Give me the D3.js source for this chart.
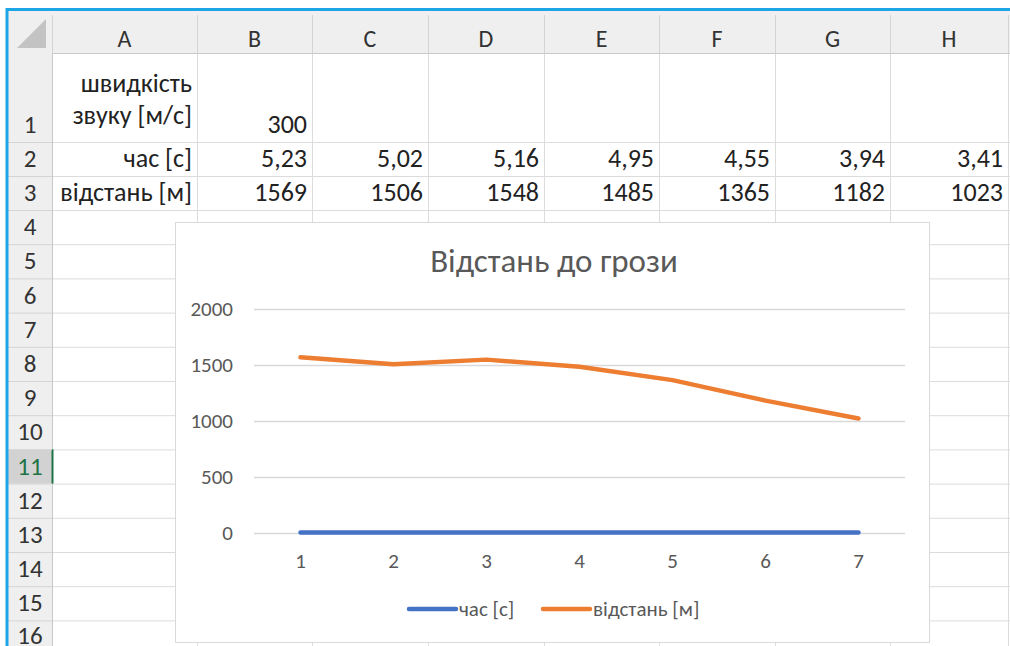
<!DOCTYPE html>
<html>
<head>
<meta charset="utf-8">
<script src="https://cdn.jsdelivr.net/npm/d3@7"></script>
<style>
  body { margin: 0; background: #fff; }
  svg { display: block; font-family: Carlito, Calibri, Lato, sans-serif; }
</style>
</head>
<body>
<svg id="sheet" width="1010" height="646"></svg>
<script>
// data from the sheet
var colLetters = ["A", "B", "C", "D", "E", "F", "G", "H"];
var rowNums = d3.range(1, 17);
var speedLabel = ["швидкість", "звуку [м/с]"];
var speed = 300;
var timeLabel = "час [с]";
var distLabel = "відстань [м]";
var times = [5.23, 5.02, 5.16, 4.95, 4.55, 3.94, 3.41];
var distances = [1569, 1506, 1548, 1485, 1365, 1182, 1023];
var categories = [1, 2, 3, 4, 5, 6, 7];
var yTicks = [0, 500, 1000, 1500, 2000];
var chartTitle = "Відстань до грози";

var svg = d3.select("#sheet");

// grid geometry
var colEdges = [8, 52, 197, 312, 428, 544, 659, 775, 890, 1008];
var headTop = 11, headBottom = 53;
var rowEdges = [headBottom, 142, 176, 210];
for (var i = 4; i <= 16; i++) rowEdges.push(210 + (i - 3) * 34.2);

var fmt = function(v) { return String(v).replace(".", ","); };

// cell grid lines
var grid = svg.append("g").attr("stroke", "#dcdcdc").attr("stroke-width", 1);
colEdges.slice(2).forEach(function(x) {
  grid.append("line").attr("x1", x + .5).attr("x2", x + .5).attr("y1", headBottom).attr("y2", 646);
});
rowEdges.slice(1).forEach(function(y) {
  grid.append("line").attr("x1", colEdges[1]).attr("x2", 1010).attr("y1", y + .5).attr("y2", y + .5);
});

// column header
svg.append("rect").attr("x", colEdges[0]).attr("y", headTop).attr("width", 1010 - colEdges[0]).attr("height", headBottom - headTop).attr("fill", "#efefef");
svg.append("line").attr("x1", colEdges[0]).attr("x2", 1010).attr("y1", headBottom + .5).attr("y2", headBottom + .5).attr("stroke", "#c8c8c8");
colEdges.slice(1).forEach(function(x) {
  svg.append("line").attr("x1", x + .5).attr("x2", x + .5).attr("y1", headTop + 4).attr("y2", headBottom).attr("stroke", "#d4d4d4");
});
svg.selectAll(".colhead").data(colLetters).enter().append("text")
  .attr("x", function(d, i) { return (colEdges[i + 1] + colEdges[i + 2]) / 2; })
  .attr("y", 47).attr("text-anchor", "middle")
  .attr("font-size", 24).attr("fill", "#333").text(function(d) { return d; });

// corner triangle
svg.append("path").attr("d", "M46,19 L46,48 L17,48 Z").attr("fill", "#c3c3c3");

// row header
svg.append("rect").attr("x", colEdges[0]).attr("y", headBottom).attr("width", colEdges[1] - colEdges[0]).attr("height", 646 - headBottom).attr("fill", "#efefef");
svg.append("rect").attr("x", colEdges[0]).attr("y", rowEdges[10]).attr("width", colEdges[1] - colEdges[0]).attr("height", rowEdges[11] - rowEdges[10]).attr("fill", "#d2d2d2");
svg.append("line").attr("x1", colEdges[1] + .5).attr("x2", colEdges[1] + .5).attr("y1", headBottom).attr("y2", 646).attr("stroke", "#c8c8c8");
svg.append("line").attr("x1", colEdges[1] + .5).attr("x2", colEdges[1] + .5).attr("y1", rowEdges[10]).attr("y2", rowEdges[11]).attr("stroke", "#217346").attr("stroke-width", 2);
rowEdges.slice(1).forEach(function(y) {
  svg.append("line").attr("x1", colEdges[0]).attr("x2", colEdges[1]).attr("y1", y + .5).attr("y2", y + .5).attr("stroke", "#d4d4d4");
});
svg.selectAll(".rowhead").data(rowNums).enter().append("text")
  .attr("x", 30).attr("y", function(d) { return Math.min(rowEdges[d] - 9, 644); })
  .attr("text-anchor", "middle").attr("font-size", 25)
  .attr("fill", function(d) { return d === 11 ? "#217346" : "#333"; })
  .text(function(d) { return d; });

// cell contents
var cells = svg.append("g").attr("font-size", 26).attr("fill", "#222").attr("text-anchor", "end");
cells.append("text").attr("x", colEdges[2] - 5).attr("y", 92).text(speedLabel[0]);
cells.append("text").attr("x", colEdges[2] - 5).attr("y", 124).text(speedLabel[1]);
cells.append("text").attr("x", colEdges[3] - 5).attr("y", rowEdges[1] - 9).text(speed);
cells.append("text").attr("x", colEdges[2] - 5).attr("y", rowEdges[2] - 9).text(timeLabel);
cells.append("text").attr("x", colEdges[2] - 5).attr("y", rowEdges[3] - 9).text(distLabel);
cells.selectAll(".t").data(times).enter().append("text")
  .attr("x", function(d, i) { return colEdges[i + 3] - 5; }).attr("y", rowEdges[2] - 9).text(fmt);
cells.selectAll(".d").data(distances).enter().append("text")
  .attr("x", function(d, i) { return colEdges[i + 3] - 5; }).attr("y", rowEdges[3] - 9).text(fmt);

// blue window frame
svg.append("line").attr("x1", 6).attr("x2", 1010).attr("y1", 9.5).attr("y2", 9.5).attr("stroke", "#1ea5e6").attr("stroke-width", 3);
svg.append("line").attr("x1", 7).attr("x2", 7).attr("y1", 8).attr("y2", 646).attr("stroke", "#1ea5e6").attr("stroke-width", 3);

//////////// CHART ////////////
var chart = svg.append("g");
chart.append("rect").attr("x", 175.5).attr("y", 222.5).attr("width", 754).attr("height", 420)
  .attr("fill", "#fff").attr("stroke", "#d9d9d9");

chart.append("text").attr("x", 554).attr("y", 272).attr("text-anchor", "middle")
  .attr("font-size", 33).attr("fill", "#595959").text(chartTitle);

var x = d3.scaleBand().domain(categories).range([254, 905]);
var y = d3.scaleLinear().domain([0, 2000]).range([533, 309]);

chart.append("g").selectAll("line").data(yTicks).enter().append("line")
  .attr("x1", 254).attr("x2", 905)
  .attr("y1", function(d) { return Math.round(y(d)) + .5; })
  .attr("y2", function(d) { return Math.round(y(d)) + .5; })
  .attr("stroke", "#d9d9d9").attr("stroke-width", 1.3);

chart.append("g").selectAll("text").data(yTicks).enter().append("text")
  .attr("x", 233).attr("y", function(d) { return y(d) + 7; })
  .attr("text-anchor", "end").attr("font-size", 21).attr("fill", "#595959")
  .text(function(d) { return d; });

chart.append("g").selectAll("text").data(categories).enter().append("text")
  .attr("x", function(d) { return x(d) + x.bandwidth() / 2; }).attr("y", 568)
  .attr("text-anchor", "middle").attr("font-size", 21).attr("fill", "#595959")
  .text(function(d) { return d; });

var line = d3.line()
  .x(function(d, i) { return x(categories[i]) + x.bandwidth() / 2; })
  .y(function(d) { return y(d); });

chart.append("path").datum(times).attr("d", line).attr("fill", "none")
  .attr("stroke", "#4472c4").attr("stroke-width", 4.5).attr("stroke-linecap", "round").attr("stroke-linejoin", "round");
chart.append("path").datum(distances).attr("d", line).attr("fill", "none")
  .attr("stroke", "#ed7d31").attr("stroke-width", 4.5).attr("stroke-linecap", "round").attr("stroke-linejoin", "round");

// legend
var legend = [
  { name: timeLabel, color: "#4472c4", x: 409 },
  { name: distLabel, color: "#ed7d31", x: 543 }
];
var lg = chart.append("g").selectAll("g").data(legend).enter().append("g");
lg.append("line").attr("x1", function(d) { return d.x; }).attr("x2", function(d) { return d.x + 47; })
  .attr("y1", 609).attr("y2", 609).attr("stroke", function(d) { return d.color; }).attr("stroke-width", 4.5)
  .attr("stroke-linecap", "round");
lg.append("text").attr("x", function(d) { return d.x + 50; }).attr("y", 616)
  .attr("font-size", 21).attr("fill", "#595959").text(function(d) { return d.name; });
</script>
</body>
</html>
